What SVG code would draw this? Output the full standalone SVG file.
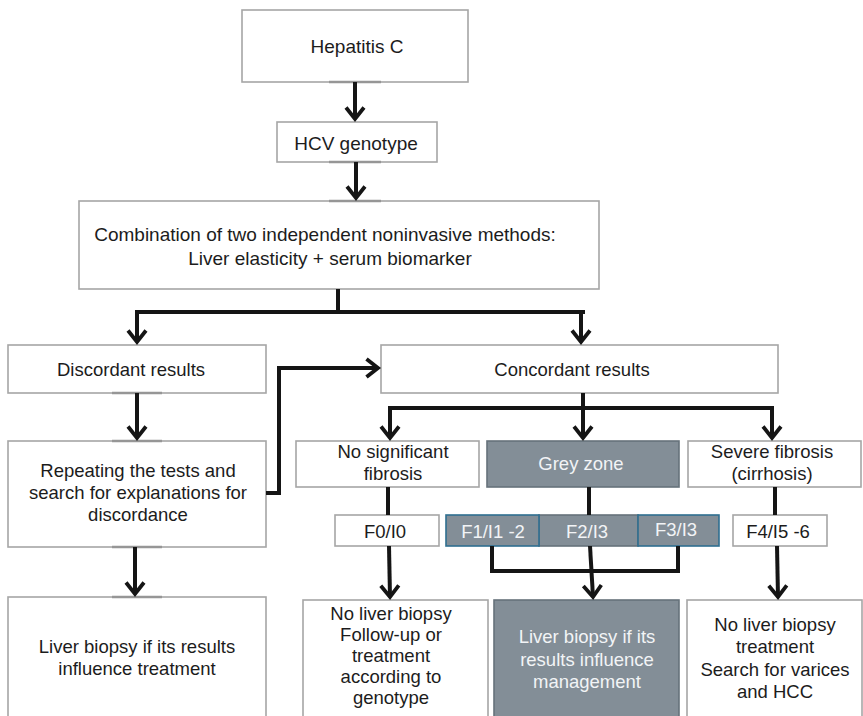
<svg xmlns="http://www.w3.org/2000/svg" width="863" height="716" viewBox="0 0 863 716">
<style>
.box{fill:#ffffff;stroke:#a6a6a6;stroke-width:1.6}
.gbox{fill:#838e97;stroke:#66727b;stroke-width:1.6}
.bbox{fill:#838e97;stroke:#2f6f90;stroke-width:1.6}
.t{font-family:"Liberation Sans",Arial,sans-serif;font-size:18.5px;fill:#1c1c1c;text-anchor:middle}
.top{font-size:19px}
.w{fill:#f2f4f6}
.c{fill:none;stroke:#151515;stroke-width:4;stroke-linejoin:miter}
.mk{fill:none;stroke:#969696;stroke-width:2.4}
</style>
<defs>
<marker id="ah" markerUnits="userSpaceOnUse" markerWidth="26" markerHeight="26" viewBox="-14 -13 26 26" refX="0" refY="0" orient="auto">
<path d="M-11.5,-9 L0,0 L-11.5,9" fill="none" stroke="#151515" stroke-width="3.8"/>
</marker>
</defs>
<rect width="863" height="716" fill="#ffffff"/>

<g id="n-hepatitis"><rect class="box" x="242" y="10" width="226" height="72"/><text class="t top" x="357" y="53">Hepatitis C</text></g>
<g id="n-hcv"><rect class="box" x="277" y="122" width="160" height="40"/><text class="t top" x="356" y="150">HCV genotype</text></g>
<g id="n-combination"><rect class="box" x="79" y="201" width="520" height="88"/><text class="t top" x="325" y="241">Combination of two independent noninvasive methods:</text><text class="t top" x="330" y="265">Liver elasticity + serum biomarker</text></g>
<g id="n-discordant"><rect class="box" x="8" y="345" width="258" height="48"/><text class="t" x="131" y="376">Discordant results</text></g>
<g id="n-concordant"><rect class="box" x="381" y="345" width="397" height="48"/><text class="t" x="572" y="376">Concordant results</text></g>
<g id="n-repeating"><rect class="box" x="8" y="441" width="258" height="106"/><text class="t" x="138" y="477">Repeating the tests and</text><text class="t" x="138" y="499">search for explanations for</text><text class="t" x="138" y="521">discordance</text></g>
<g id="n-nosig"><rect class="box" x="296" y="441" width="183" height="46"/><text class="t" x="393" y="458">No significant</text><text class="t" x="393" y="480">fibrosis</text></g>
<g id="n-greyzone"><rect class="gbox" x="487" y="441" width="192" height="46"/><text class="t w" x="581" y="470">Grey zone</text></g>
<g id="n-severe"><rect class="box" x="688" y="441" width="173" height="46"/><text class="t" x="772" y="458">Severe fibrosis</text><text class="t" x="772" y="480">(cirrhosis)</text></g>
<g id="n-f0"><rect class="box" x="335" y="515" width="104" height="31"/><text class="t" x="385" y="538">F0/I0</text></g>
<g id="n-f2"><rect class="gbox" x="539" y="515" width="99" height="31"/><text class="t w" x="587" y="538">F2/I3</text></g>
<g id="n-f1"><rect class="bbox" x="446" y="515" width="93" height="31"/><text class="t w" x="493" y="538">F1/I1 -2</text></g>
<g id="n-f3"><rect class="bbox" x="638" y="515" width="81" height="31"/><text class="t w" x="676" y="536">F3/I3</text></g>
<g id="n-f4"><rect class="box" x="733" y="515" width="94" height="31"/><text class="t" x="778" y="538">F4/I5 -6</text></g>
<g id="n-biopsy-left"><rect class="box" x="8" y="597" width="258" height="130"/><text class="t" x="137" y="653">Liver biopsy if its results</text><text class="t" x="137" y="675">influence treatment</text></g>
<g id="n-nobiopsy-followup"><rect class="box" x="303" y="600" width="185" height="130"/><text class="t" x="391" y="620">No liver biopsy</text><text class="t" x="391" y="641">Follow-up or</text><text class="t" x="391" y="662">treatment</text><text class="t" x="391" y="683">according to</text><text class="t" x="391" y="704">genotype</text></g>
<g id="n-biopsy-grey"><rect class="gbox" x="494" y="600" width="185" height="130"/><text class="t w" x="587" y="643">Liver biopsy if its</text><text class="t w" x="587" y="666">results influence</text><text class="t w" x="587" y="688">management</text></g>
<g id="n-nobiopsy-treatment"><rect class="box" x="687" y="600" width="175" height="130"/><text class="t" x="775" y="631">No liver biopsy</text><text class="t" x="775" y="653">treatment</text><text class="t" x="775" y="676">Search for varices</text><text class="t" x="775" y="698">and HCC</text></g>

<g id="edge-marks">
<path class="mk" d="M329,82 H381 M329,162 H381 M329,201 H381 M112,393 H162 M112,441 H162 M112,547 H162 M112,597 H162"/>
</g>

<g id="connectors">
<path class="c" d="M355,82 V119" marker-end="url(#ah)"/>
<path class="c" d="M356,162 V198" marker-end="url(#ah)"/>
<path class="c" d="M338,289 V312"/>
<path class="c" d="M135,312 H585"/>
<path class="c" d="M137,312 V342" marker-end="url(#ah)"/>
<path class="c" d="M581,312 V342" marker-end="url(#ah)"/>
<path class="c" d="M137,393 V438" marker-end="url(#ah)"/>
<path class="c" d="M135,547 V594" marker-end="url(#ah)"/>
<path class="c" d="M266,493 H279 V368 H378" marker-end="url(#ah)"/>
<path class="c" d="M583,393 V408"/>
<path class="c" d="M388,408 H774"/>
<path class="c" d="M390,408 V438" marker-end="url(#ah)"/>
<path class="c" d="M583,408 V438" marker-end="url(#ah)"/>
<path class="c" d="M772,408 V438" marker-end="url(#ah)"/>
<path class="c" d="M388,487 V515"/>
<path class="c" d="M589,487 V515"/>
<path class="c" d="M775,487 V515"/>
<path class="c" d="M389,546 L390,597" marker-end="url(#ah)"/>
<path class="c" d="M492,546 V571 H678 V546"/>
<path class="c" d="M590,546 L593,597" marker-end="url(#ah)"/>
<path class="c" d="M777,546 L778,597" marker-end="url(#ah)"/>
</g>
</svg>
